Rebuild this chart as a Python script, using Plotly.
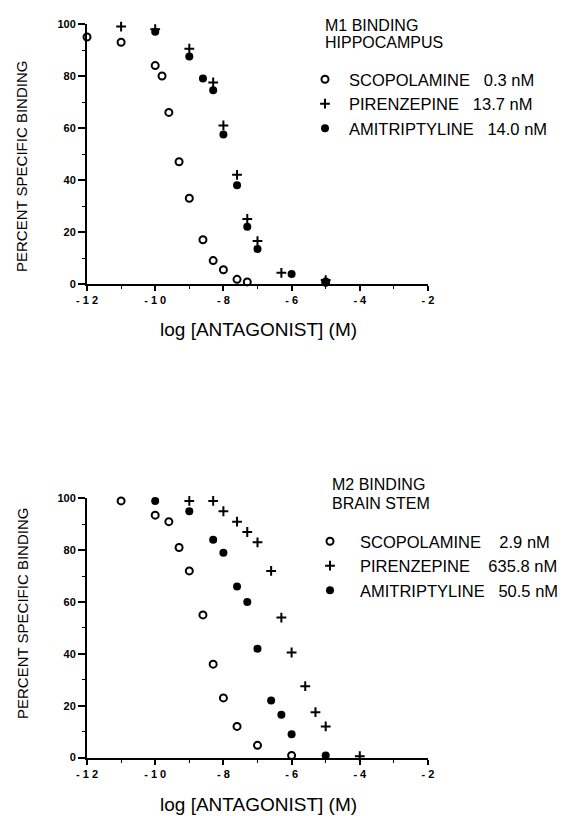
import plotly.graph_objects as go

# ---------------- data ----------------
# M1 binding, hippocampus
scop_x1 = [-12, -11, -10, -9.8, -9.6, -9.3, -9, -8.6, -8.3, -8, -7.6, -7.3, -5]
scop_y1 = [95, 93, 84, 80, 66, 47, 33, 17, 9, 5.5, 1.8, 0.8, 0.6]
pir_x1 = [-11, -10, -9, -8.3, -8, -7.6, -7.3, -7, -6.3, -5]
pir_y1 = [99, 98, 90.5, 77.5, 61, 42, 25, 16.5, 4.3, 1.5]
ami_x1 = [-10, -9, -8.6, -8.3, -8, -7.6, -7.3, -7, -6, -5]
ami_y1 = [97, 87.5, 79, 74.5, 57.5, 38, 22, 13.5, 3.8, 1]

# M2 binding, brain stem
scop_x2 = [-11, -10, -9.6, -9.3, -9, -8.6, -8.3, -8, -7.6, -7, -6]
scop_y2 = [99, 93.5, 91, 81, 72, 55, 36, 23, 12, 4.7, 0.8]
pir_x2 = [-9, -8.3, -8, -7.6, -7.3, -7, -6.6, -6.3, -6, -5.6, -5.3, -5, -4]
pir_y2 = [99, 99, 95, 91, 87, 83, 72, 54, 40.5, 27.5, 17.5, 12, 0.5]
ami_x2 = [-10, -9, -8.3, -8, -7.6, -7.3, -7, -6.6, -6.3, -6, -5]
ami_y2 = [99, 95, 84, 79, 66, 60, 42, 22, 16.5, 9, 0.8]

names1 = ["SCOPOLAMINE   0.3 nM", "PIRENZEPINE   13.7 nM", "AMITRIPTYLINE   14.0 nM"]
names2 = ["SCOPOLAMINE    2.9 nM", "PIRENZEPINE    635.8 nM", "AMITRIPTYLINE   50.5 nM"]
headers1 = ["M1 BINDING", "HIPPOCAMPUS"]
headers2 = ["M2 BINDING", "BRAIN STEM"]

x_tickvals = [-12, -10, -8, -6, -4, -2]
x_ticktext = ["- 1 2", "- 1 0", "- 8", "- 6", "- 4", "- 2"]
y_tickvals = [0, 20, 40, 60, 80, 100]
x_title = "log [ANTAGONIST] (M)"
y_title = "PERCENT SPECIFIC BINDING"

FONT = "Liberation Sans, Arial, sans-serif"

W, H = 581, 816
OFF = 8  # page body margin of the html page

def px(x):
    return (x - OFF) / W

def py(y):
    return 1 - (y - OFF) / H

styles = [
    dict(symbol="circle-open", size=7, color="black", line=dict(width=2, color="black")),
    dict(symbol="cross-thin-open", size=7, color="black", line=dict(width=2, color="black")),
    dict(symbol="circle", size=8, color="black", line=dict(width=0)),
]

fig = go.Figure()

sets = [
    ((scop_x1, scop_y1), (pir_x1, pir_y1), (ami_x1, ami_y1)),
    ((scop_x2, scop_y2), (pir_x2, pir_y2), (ami_x2, ami_y2)),
]
allnames = [names1, names2]
for p, series in enumerate(sets):
    xa = "x" if p == 0 else "x2"
    ya = "y" if p == 0 else "y2"
    lg = "legend" if p == 0 else "legend2"
    for i, (xs, ys) in enumerate(series):
        fig.add_trace(go.Scatter(
            x=xs, y=ys, mode="markers", name=allnames[p][i],
            marker=styles[i], xaxis=xa, yaxis=ya, legend=lg,
            cliponaxis=False,
        ))

xdom = [px(87), px(428)]
ydom1 = [py(284), py(24)]
ydom2 = [py(757.5), py(498.3)]

def xaxis(anchor):
    return dict(
        domain=xdom, range=[-12, -2], anchor=anchor,
        showline=True, linewidth=2, linecolor="black",
        ticks="outside", ticklen=5, tickwidth=1.5, tickcolor="black",
        tickvals=x_tickvals, ticktext=x_ticktext,
        tickfont=dict(family=FONT, size=11, color="black", weight="bold"),
        minor=dict(dtick=1, ticks="outside", ticklen=3, tickwidth=1, tickcolor="black"),
        showgrid=False, zeroline=False, automargin=False,
    )

def yaxis(anchor, dom):
    return dict(
        domain=dom, range=[0, 100], anchor=anchor,
        showline=True, linewidth=2, linecolor="black",
        ticks="outside", ticklen=7, tickwidth=1.5, tickcolor="black",
        tickvals=y_tickvals,
        tickfont=dict(family=FONT, size=11, color="black", weight="bold"),
        minor=dict(dtick=10, ticks="outside", ticklen=3, tickwidth=1, tickcolor="black"),
        showgrid=False, zeroline=False, automargin=False,
    )

ann = []
# axis titles
for ty in [330, 804]:
    ann.append(dict(text=x_title, x=px(258), y=py(ty), xref="paper", yref="paper",
                    showarrow=False, xanchor="center", yanchor="middle",
                    font=dict(family=FONT, size=19, color="black")))
for ty in [167, 614]:
    ann.append(dict(text=y_title, x=px(22), y=py(ty), xref="paper", yref="paper",
                    showarrow=False, xanchor="center", yanchor="middle", textangle=-90,
                    font=dict(family=FONT, size=15, color="black")))
# panel headers
for hdrs, hx, ys in [(headers1, 323, [25, 43]), (headers2, 330, [484, 504])]:
    for t, yy in zip(hdrs, ys):
        ann.append(dict(text=t, x=px(hx), y=py(yy), xref="paper", yref="paper",
                        showarrow=False, xanchor="left", yanchor="middle",
                        font=dict(family=FONT, size=16, color="black")))

leg_common = dict(
    xanchor="left", yanchor="top", bgcolor="rgba(0,0,0,0)",
    font=dict(family=FONT, size=16.5, color="black"),
    itemclick=False, itemdoubleclick=False, borderwidth=0,
)

fig.update_layout(
    width=W, height=H,
    margin=dict(l=0, r=0, t=0, b=0, pad=0, autoexpand=False),
    paper_bgcolor="white", plot_bgcolor="white",
    showlegend=True,
    xaxis=xaxis("y"), yaxis=yaxis("x", ydom1),
    xaxis2=xaxis("y2"), yaxis2=yaxis("x2", ydom2),
    legend=dict(x=px(301), y=py(62), itemwidth=38, **leg_common),
    legend2=dict(x=px(300), y=py(524), itemwidth=50, **leg_common),
    annotations=ann,
)

fig.write_html("out.html")
